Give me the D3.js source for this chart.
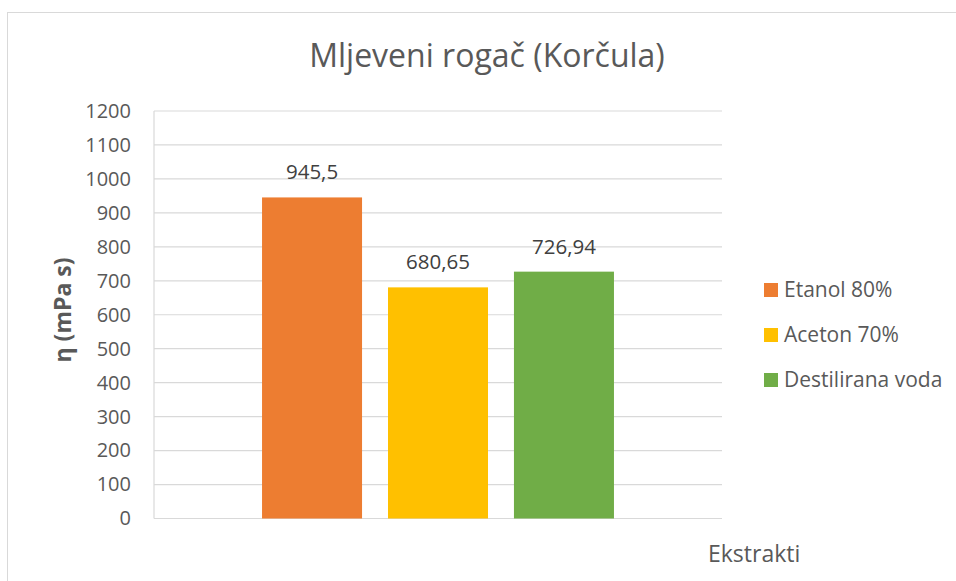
<!DOCTYPE html>
<html>
<head>
<meta charset="utf-8">
<script src="https://cdn.jsdelivr.net/npm/d3@7"></script>
<style>
  body { margin: 0; background: #fff; }
  svg { font-family: "Open Sans", sans-serif; }
</style>
</head>
<body>
<svg width="956" height="581"></svg>
<script>
const series = ["Etanol 80%", "Aceton 70%", "Destilirana voda"];
const values = [945.5, 680.65, 726.94];
const valueLabels = ["945,5", "680,65", "726,94"];
const colors = ["#ED7D31", "#FFC000", "#70AD47"];
const yTicks = [0, 100, 200, 300, 400, 500, 600, 700, 800, 900, 1000, 1100, 1200];
const category = ["Ekstrakti"];

const svg = d3.select("svg");

// chart frame
svg.append("rect")
    .attr("x", 7.5).attr("y", 12.5)
    .attr("width", 960).attr("height", 580)
    .attr("fill", "none")
    .attr("stroke", "#d9d9d9");

const plot = { left: 154, right: 722, top: 111, bottom: 518.5 };

const y = d3.scaleLinear().domain([0, 1200]).range([plot.bottom, plot.top]);
const x0 = d3.scaleBand().domain(category)
    .range([plot.left, plot.right]).paddingInner(0).paddingOuter(0.307);
const x1 = d3.scaleBand().domain(series)
    .range([0, x0.bandwidth()]).paddingInner(0.206).paddingOuter(0);

// gridlines
svg.append("g")
    .selectAll("line")
    .data(yTicks)
    .enter().append("line")
    .attr("x1", plot.left).attr("x2", plot.right)
    .attr("y1", d => y(d)).attr("y2", d => y(d))
    .attr("stroke", "#d9d9d9")
    .attr("stroke-width", 1.2);

// left axis line
svg.append("line")
    .attr("x1", plot.left).attr("x2", plot.left)
    .attr("y1", plot.top).attr("y2", plot.bottom)
    .attr("stroke", "#d9d9d9")
    .attr("stroke-width", 1.2);

// y axis labels
const yAxis = d3.axisLeft(y).tickValues(yTicks).tickFormat(d3.format("d"))
    .tickSize(0).tickPadding(23);
const ya = svg.append("g")
    .attr("transform", "translate(" + plot.left + ",0)")
    .call(yAxis);
ya.select(".domain").remove();
ya.selectAll("text")
    .attr("fill", "#595959")
    .style("font-size", "20px")
    .style("font-family", "'Open Sans', sans-serif");

// bars
svg.append("g")
    .selectAll("rect")
    .data(series)
    .enter().append("rect")
    .attr("x", d => x0(category[0]) + x1(d))
    .attr("width", x1.bandwidth())
    .attr("y", (d, i) => y(values[i]))
    .attr("height", (d, i) => y(0) - y(values[i]))
    .attr("fill", (d, i) => colors[i]);

// data labels
svg.append("g")
    .selectAll("text")
    .data(series)
    .enter().append("text")
    .attr("x", d => x0(category[0]) + x1(d) + x1.bandwidth() / 2)
    .attr("y", (d, i) => y(values[i]) - 18)
    .attr("text-anchor", "middle")
    .attr("fill", "#404040")
    .style("font-size", "20.5px")
    .text((d, i) => valueLabels[i]);

// title
svg.append("text")
    .attr("x", 487).attr("y", 67)
    .attr("text-anchor", "middle")
    .attr("fill", "#595959")
    .style("font-size", "32px")
    .text("Mljeveni rogač (Korčula)");

// y axis title
svg.append("text")
    .attr("transform", "translate(71,310) rotate(-90)")
    .attr("text-anchor", "middle")
    .attr("fill", "#595959")
    .style("font-size", "23px")
    .style("font-weight", "bold")
    .text("η (mPa s)");

// x axis title
svg.append("text")
    .attr("x", 708).attr("y", 562)
    .attr("fill", "#595959")
    .style("font-size", "23px")
    .text(category[0]);

// legend
const legend = svg.append("g")
    .selectAll("g")
    .data(series)
    .enter().append("g")
    .attr("transform", (d, i) => "translate(764," + (283 + i * 45) + ")");

legend.append("rect")
    .attr("width", 14).attr("height", 14)
    .attr("fill", (d, i) => colors[i]);

legend.append("text")
    .attr("x", 20).attr("y", 14)
    .attr("fill", "#595959")
    .style("font-size", "21px")
    .text(d => d);
</script>
</body>
</html>
